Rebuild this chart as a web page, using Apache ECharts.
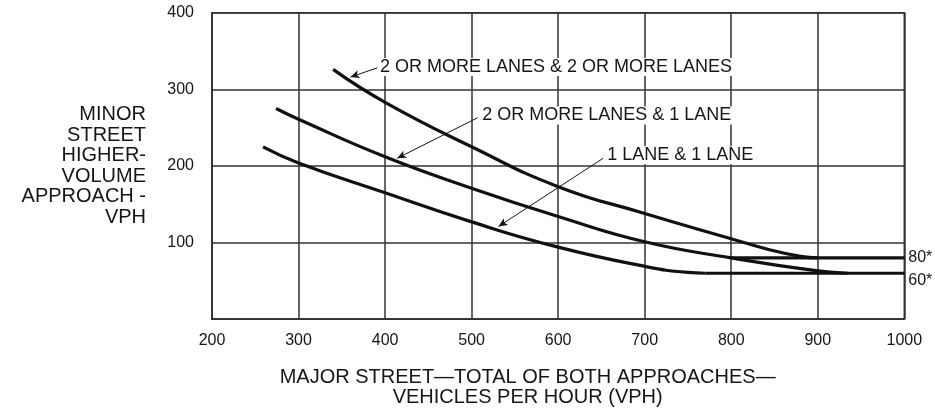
<!DOCTYPE html>
<html>
<head>
<meta charset="utf-8">
<script src="https://cdn.jsdelivr.net/npm/echarts@6/dist/echarts.min.js"></script>
<style>
html,body{margin:0;padding:0;background:#fff;}
#chart{width:935px;height:412px;}
</style>
</head>
<body>
<div id="chart"></div>
<script>
// ---- data ----
const xTicks = [200, 300, 400, 500, 600, 700, 800, 900, 1000];
const yTicks = [0, 100, 200, 300, 400];
const curveNames = ['2 OR MORE LANES & 2 OR MORE LANES', '2 OR MORE LANES & 1 LANE', '1 LANE & 1 LANE'];
const curve2and2 = [[340,326],[400,283],[500,225],[600,173],[700,138],[800,105],[840,92],[880,82],[900,80]];
const curve2and1 = [[274,275],[300,261],[400,212],[500,171],[600,134],[700,101],[800,80],[900,63],[935,60]];
const curve1and1 = [[259,225],[300,204],[400,165],[500,127],[600,94],[700,69],[750,61],[770,60]];
const floor60 = [[770,60],[1000,60]];
const floor80 = [[800,80],[1000,80]];
const floorLabels = ['80*', '60*'];
const xTitle = 'MAJOR STREET\u2014TOTAL OF BOTH APPROACHES\u2014\nVEHICLES PER HOUR (VPH)';
const yTitle = ['MINOR', 'STREET', 'HIGHER-', 'VOLUME', 'APPROACH -', 'VPH'];

const FONT = '"Liberation Sans", Arial, Helvetica, sans-serif';
const INK = '#161616';
const GRID = '#333';

const chart = echarts.init(document.getElementById('chart'));

const curveStyle = { color: '#111', width: 3.2 };
function curve(data, extra) {
  return Object.assign({
    type: 'line', data: data, smooth: 0.5,
    showSymbol: false, symbol: 'none', lineStyle: curveStyle, silent: true, z: 3
  }, extra || {});
}
const arrowLine = { color: INK, width: 1, type: 'solid' };
const textLabel = (txt) => ({
  show: true, position: 'right', distance: 0, formatter: txt,
  fontFamily: FONT, fontSize: 18, color: INK, backgroundColor: '#fff', padding: [0, 1]
});

chart.setOption({
  animation: false,
  backgroundColor: '#fff',
  grid: { left: 212, right: 30.7, top: 12.7, bottom: 90.5, show: true, borderColor: GRID, borderWidth: 1.5 },
  xAxis: {
    type: 'value', min: xTicks[0], max: xTicks[xTicks.length - 1], interval: 100,
    axisLine: { show: true, lineStyle: { color: GRID, width: 1.5 } },
    axisTick: { show: false },
    splitLine: { show: true, lineStyle: { color: GRID, width: 1.5 } },
    axisLabel: { fontFamily: FONT, fontSize: 16, color: INK, margin: 13, formatter: v => String(v) },
    name: xTitle, nameLocation: 'middle', nameGap: 47.8,
    nameTextStyle: { fontFamily: FONT, fontSize: 20, lineHeight: 20, color: INK, padding: [0, 61, 0, 0] }
  },
  yAxis: {
    type: 'value', min: yTicks[0], max: yTicks[yTicks.length - 1], interval: 100,
    axisLine: { show: true, lineStyle: { color: GRID, width: 1.5 } },
    axisTick: { show: false },
    splitLine: { show: true, lineStyle: { color: GRID, width: 1.5 } },
    axisLabel: { fontFamily: FONT, fontSize: 16, color: INK, margin: 18,
      formatter: v => (v === 0 ? '' : String(v)) },
    name: yTitle.join('\n'), nameLocation: 'middle', nameGap: 66, nameRotate: 0,
    nameTextStyle: { fontFamily: FONT, fontSize: 20, lineHeight: 20.6, color: INK, align: 'right', verticalAlign: 'middle' }
  },
  series: [
    curve(curve2and2, {
      markLine: {
        silent: true, symbol: ['none', 'arrow'], symbolSize: [6, 9],
        label: { show: false }, lineStyle: arrowLine,
        data: [
          [{ coord: [391, 328] }, { coord: [360, 316] }],
          [{ coord: [507, 263] }, { coord: [414, 210] }],
          [{ coord: [652, 210] }, { coord: [531, 121] }]
        ]
      },
      markPoint: {
        silent: true, symbol: 'circle', symbolSize: 0,
        data: [
          { coord: [393, 329], label: textLabel(curveNames[0]) },
          { coord: [511, 266], label: textLabel(curveNames[1]) },
          { coord: [655.5, 214], label: textLabel(curveNames[2]) }
        ]
      }
    }),
    curve(curve2and1),
    curve(curve1and1),
    curve(floor60, { smooth: false,
      markPoint: {
        silent: true, symbol: 'circle', symbolSize: 0,
        data: [
          { coord: [1000, 80], label: { show: true, position: 'right', distance: 4, formatter: floorLabels[0], fontFamily: FONT, fontSize: 16, color: INK } },
          { coord: [1000, 60], label: { show: true, position: 'right', distance: 4, offset: [0, 7], formatter: floorLabels[1], fontFamily: FONT, fontSize: 16, color: INK } }
        ]
      }
    }),
    curve(floor80, { smooth: false })
  ]
});
</script>
</body>
</html>
